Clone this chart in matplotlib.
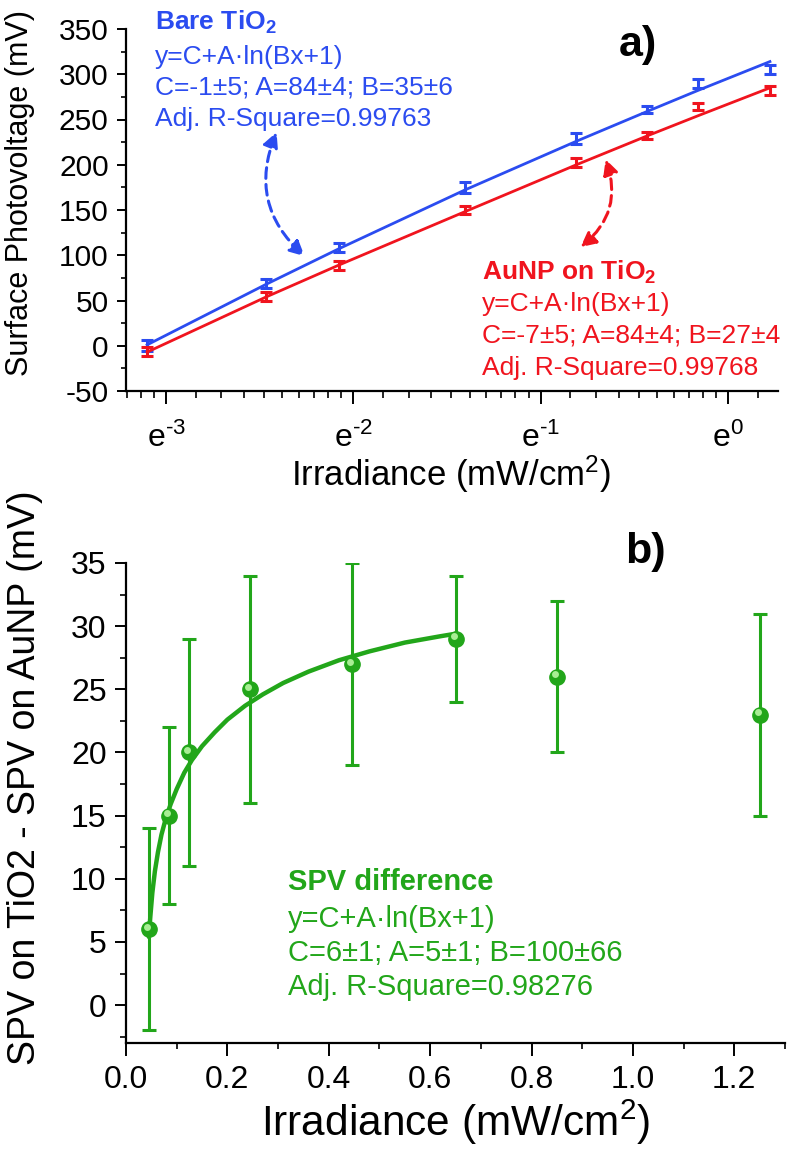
import numpy as np
import matplotlib
matplotlib.use('Agg')
from matplotlib import pyplot as pl
from matplotlib.ticker import FixedLocator, FixedFormatter, MultipleLocator
from matplotlib.patches import FancyArrowPatch
from matplotlib.transforms import offset_copy

# irradiance of the measurement points (mW/cm2)
irradiance = [0.045, 0.085, 0.125, 0.245, 0.445, 0.65, 0.85, 1.25]

# a) surface photovoltage (mV)
spv_bare = [0, 69, 109, 175, 229, 261, 290, 305]
spv_bare_err = [6, 5, 5, 6, 6, 4, 5, 5]
spv_aunp = [-6, 54, 89, 150, 202, 232, 264, 282]
spv_aunp_err = [5, 5, 5, 4, 5, 4, 4, 5]

# fitted curves
fit_x = [0.045, 0.085, 0.125, 0.245, 0.445, 0.65, 0.85, 1.25]
fit_bare = [1, 68, 107, 172, 226, 259, 282, 314]
fit_aunp = [-7, 54, 89, 148, 200, 232, 254, 285]

# b) difference bare - AuNP (mV)
spv_diff = [6, 15, 20, 25, 27, 29, 26, 23]
spv_diff_err = [8, 7, 9, 9, 8, 5, 6, 8]
fit_diff_x = [0.045, 0.048, 0.052, 0.057, 0.063, 0.07, 0.078, 0.088, 0.1, 0.115,
              0.13, 0.15, 0.175, 0.2, 0.235, 0.27, 0.31, 0.36, 0.42, 0.48,
              0.55, 0.62, 0.65]
fit_diff = [5.4, 7.0, 8.9, 10.6, 12.1, 13.5, 14.7, 15.9, 17.1, 18.4,
            19.4, 20.5, 21.6, 22.6, 23.7, 24.6, 25.5, 26.4, 27.3, 28.0,
            28.7, 29.2, 29.4]

blue = '#2B4CF0'
red = '#F0141E'
green = '#22A61A'

pl.rcParams['font.family'] = ['Liberation Sans', 'DejaVu Sans']
pl.rcParams['mathtext.fontset'] = 'custom'
pl.rcParams['mathtext.rm'] = 'Liberation Sans'
pl.rcParams['mathtext.it'] = 'Liberation Sans:italic'
pl.rcParams['mathtext.bf'] = 'Liberation Sans:bold'
pl.rcParams['axes.unicode_minus'] = False

W, H = 788, 1158
fig = pl.figure(figsize=(W / 100, H / 100), dpi=100)


def box(l, t, r, b):
    return [l / W, 1 - b / H, (r - l) / W, (b - t) / H]


def px(x, y):
    return x / W, 1 - y / H


ax1 = fig.add_axes(box(126, 29, 778, 391))
ax2 = fig.add_axes(box(126, 563, 785, 1043))

for ax in (ax1, ax2):
    ax.spines[['top', 'right']].set_visible(False)
    ax.spines[['left', 'bottom']].set_linewidth(1.6)

# ---- a)
ax1.set_xscale('log', base=np.e)
ax1.set_xlim(0.0402, 1.305)
ax1.set_ylim(-50, 350)

for y, err, fit, c in [(spv_bare, spv_bare_err, fit_bare, blue),
                       (spv_aunp, spv_aunp_err, fit_aunp, red)]:
    ax1.plot(fit_x, fit, color=c, lw=2, solid_joinstyle='round')
    ax1.errorbar(irradiance, y, yerr=err, fmt='none', ecolor=c,
                 elinewidth=2.2, capsize=4, capthick=2.2)

majors = np.exp([-3, -2, -1, 0])
minors = []
for n in range(-4, 1):
    lo, hi = np.exp(n), np.exp(n + 1)
    minors += list(np.linspace(lo, hi, 11)[1:-1])
ax1.xaxis.set_major_locator(FixedLocator(majors))
ax1.xaxis.set_major_formatter(FixedFormatter(
    ['$\\mathregular{e^{\u20103}}$', '$\\mathregular{e^{\u20102}}$',
     '$\\mathregular{e^{\u20101}}$', '$\\mathregular{e^{0}}$']))
ax1.xaxis.set_minor_locator(FixedLocator(minors))
ax1.xaxis.set_minor_formatter(FixedFormatter([]))
ax1.yaxis.set_major_locator(MultipleLocator(50))
ax1.yaxis.set_minor_locator(MultipleLocator(25))
ax1.tick_params(axis='x', which='major', length=9.5, width=1.4, labelsize=23, pad=13)
ax1.tick_params(axis='x', which='minor', length=5, width=1.2)
ax1.tick_params(axis='y', which='major', length=6.5, width=1.4, labelsize=21.5, pad=6)
ax1.tick_params(axis='y', which='minor', length=3.5, width=1.2)

fig.text(*px(451, 474), 'Irradiance (mW/cm$^2$)', fontsize=25, ha='center', va='center')
fig.text(*px(20, 193), 'Surface Photovoltage (mV)', fontsize=22, ha='center',
         va='center', rotation=90)

fs = 19
lines_blue = ['Bare TiO$_\\mathbf{2}$', 'y=C+A·ln(Bx+1)',
              'C=-1±5; A=84±4; B=35±6', 'Adj. R-Square=0.99763']
for i, (t, yy) in enumerate(zip(lines_blue, [22, 57, 88, 119])):
    fig.text(*px(155, yy), t, color=blue, fontsize=fs, va='center',
             fontweight='bold' if i == 0 else 'normal')
lines_red = ['AuNP on TiO$_\\mathbf{2}$', 'y=C+A·ln(Bx+1)',
             'C=-7±5; A=84±4; B=27±4', 'Adj. R-Square=0.99768']
for i, (t, yy) in enumerate(zip(lines_red, [272, 304, 336, 368])):
    fig.text(*px(482, yy), t, color=red, fontsize=fs, va='center',
             fontweight='bold' if i == 0 else 'normal')
fig.text(*px(638, 45), 'a)', fontsize=31, fontweight='bold', ha='center', va='center')

for (xa, ya), (xb, yb), rad, c in [((0.0898, 236), (0.1043, 99), 0.35, blue),
                                   ((0.520, 206), (0.455, 109), -0.35, red)]:
    ax1.add_patch(FancyArrowPatch((xa, ya), (xb, yb),
                                  arrowstyle='<|-|>,head_length=9,head_width=4.5',
                                  connectionstyle='arc3,rad=%s' % rad, color=c, lw=2.2,
                                  linestyle=(0, (3.5, 2)), shrinkA=0, shrinkB=0))

# ---- b)
ax2.set_xlim(0, 1.3)
ax2.set_ylim(-3, 35)
ax2.plot(fit_diff_x, fit_diff, color=green, lw=3.2, solid_capstyle='round',
         solid_joinstyle='round')
ax2.errorbar(irradiance, spv_diff, yerr=spv_diff_err, fmt='o', color=green,
             ms=11, mec=green, ecolor=green, elinewidth=2.2, capsize=5, capthick=2.2)
hl = offset_copy(ax2.transData, fig=fig, x=-2, y=2.5, units='dots')
ax2.plot(irradiance, spv_diff, 'o', ms=5, color='#A8EE94', mec='none', transform=hl,
         zorder=4)

ax2.xaxis.set_major_locator(MultipleLocator(0.2))
ax2.xaxis.set_minor_locator(MultipleLocator(0.1))
ax2.yaxis.set_major_locator(MultipleLocator(5))
ax2.yaxis.set_minor_locator(MultipleLocator(2.5))
ax2.tick_params(axis='x', which='major', length=9.5, width=1.4, labelsize=23, pad=6)
ax2.tick_params(axis='x', which='minor', length=4, width=1.2)
ax2.tick_params(axis='y', which='major', length=8, width=1.4, labelsize=23, pad=6)
ax2.tick_params(axis='y', which='minor', length=4.5, width=1.2)
ax2.xaxis.set_major_formatter(pl.FuncFormatter(lambda v, p: '%.1f' % v))

fig.text(*px(456, 1122), 'Irradiance (mW/cm$^2$)', fontsize=30.5, ha='center',
         va='center')
fig.text(*px(25, 778), 'SPV on TiO2 - SPV on AuNP (mV)', fontsize=27, ha='center',
         va='center', rotation=90)

lines_green = ['SPV difference', 'y=C+A·ln(Bx+1)',
               'C=6±1; A=5±1; B=100±66', 'Adj. R-Square=0.98276']
for i, (t, yy) in enumerate(zip(lines_green, [882, 919, 953, 987])):
    fig.text(*px(288, yy), t, color=green, fontsize=21, va='center',
             fontweight='bold' if i == 0 else 'normal')
fig.text(*px(645, 552), 'b)', fontsize=31, fontweight='bold', ha='center', va='center')

fig.savefig('out.png', dpi=100)
